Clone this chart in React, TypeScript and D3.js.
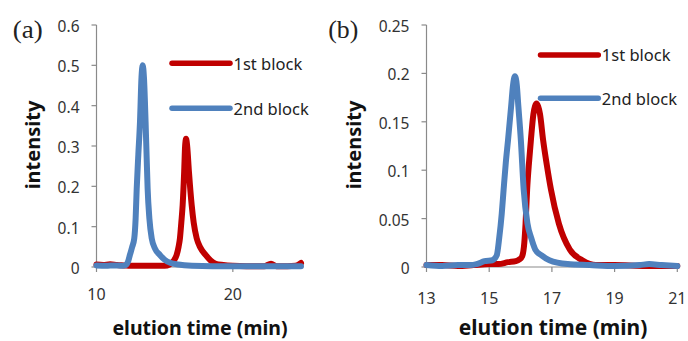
import React from "react";
import * as d3 from "d3";

type Pt = [number, number];

// Panel (a): elution profiles
const firstBlockA: Pt[] = [
  [10, 0.006], [10.5, 0.005], [11, 0.007], [11.5, 0.005], [12, 0.004], [12.5, 0.003],
  [13, 0.003], [13.5, 0.003], [14, 0.003], [14.5, 0.003], [15, 0.003], [15.35, 0.006],
  [15.65, 0.015], [15.88, 0.03], [16.02, 0.05], [16.12, 0.071], [16.22, 0.11], [16.32, 0.154],
  [16.43, 0.236], [16.5, 0.3], [16.57, 0.318], [16.65, 0.3], [16.78, 0.236], [16.98, 0.154],
  [17.13, 0.11], [17.35, 0.071], [17.62, 0.048], [18.0, 0.03], [18.35, 0.017], [18.75, 0.008],
  [19.3, 0.005], [20, 0.003], [21, 0.002], [22.3, 0.002], [22.8, 0.008], [23.2, 0.002],
  [24, 0.002], [24.6, 0.003], [25, 0.01],
];
const secondBlockA: Pt[] = [
  [10, 0.004], [10.7, 0.003], [11.3, 0.004], [11.9, 0.003], [12.15, 0.005], [12.33, 0.015],
  [12.45, 0.03], [12.62, 0.05], [12.77, 0.071], [12.87, 0.12], [12.95, 0.195], [13.07, 0.28],
  [13.19, 0.36], [13.3, 0.47], [13.39, 0.5], [13.48, 0.47], [13.6, 0.36], [13.68, 0.27],
  [13.75, 0.195], [13.88, 0.12], [14.05, 0.071], [14.3, 0.045], [14.65, 0.03], [15.0, 0.018],
  [15.45, 0.01], [16, 0.006], [17, 0.003], [18.5, 0.002], [20, 0.002], [22, 0.002],
  [23.5, 0.002], [25, 0.002],
];

// Panel (b): elution profiles
const firstBlockB: Pt[] = [
  [13, 0.002], [13.5, 0.002], [14, 0.001], [14.5, 0.002], [15, 0.003], [15.3, 0.003],
  [15.6, 0.005], [15.85, 0.006], [15.97, 0.008], [16.05, 0.011], [16.12, 0.025], [16.16, 0.045],
  [16.21, 0.08], [16.27, 0.108], [16.33, 0.131], [16.41, 0.158], [16.46, 0.166], [16.51, 0.169],
  [16.56, 0.166], [16.62, 0.158], [16.72, 0.131], [16.84, 0.105], [16.97, 0.08], [17.22, 0.045],
  [17.57, 0.018], [17.97, 0.007], [18.4, 0.002], [19, 0.002], [20, 0.001], [21, 0.001],
];
const secondBlockB: Pt[] = [
  [13, 0.002], [13.5, 0.001], [14, 0.002], [14.4, 0.002], [14.6, 0.003], [14.85, 0.006],
  [15.1, 0.007], [15.24, 0.012], [15.32, 0.03], [15.4, 0.055], [15.46, 0.08], [15.53, 0.108],
  [15.6, 0.131], [15.7, 0.166], [15.76, 0.188], [15.82, 0.197], [15.88, 0.188], [15.93, 0.166],
  [16.01, 0.131], [16.1, 0.08], [16.22, 0.045], [16.34, 0.03], [16.47, 0.018], [16.67, 0.012],
  [16.92, 0.007], [17.5, 0.003], [18.2, 0.002], [19, 0.001], [19.8, 0.002], [20.1, 0.003],
  [20.5, 0.002], [21, 0.001],
];

const xTicksA = [10, 20];
const yTicksA = [0, 0.1, 0.2, 0.3, 0.4, 0.5, 0.6];
const xTicksB = [13, 15, 17, 19, 21];
const yTicksB = [0, 0.05, 0.1, 0.15, 0.2, 0.25];

const seriesNames = ["1st block", "2nd block"];
const RED = "#c00000";
const BLUE = "#4f81bd";
const AXIS = "#8a8a8a";
const SANS = "'Noto Sans', 'Open Sans', sans-serif";

interface PanelProps {
  tag: string;
  tagX: number;
  xDomain: [number, number];
  xRange: [number, number];
  yDomain: [number, number];
  xTicks: number[];
  yTicks: number[];
  first: Pt[];
  second: Pt[];
  xLabelY: number;
  xTitleX: number;
  xTitleSize: number;
  yTitleX: number;
  legendX: [number, number];
  legendY: [number, number];
}

function Panel(p: PanelProps) {
  const x = d3.scaleLinear().domain(p.xDomain).range(p.xRange);
  const y = d3.scaleLinear().domain(p.yDomain).range([267, 25]);
  const line = d3
    .line<Pt>()
    .x((d) => x(d[0]))
    .y((d) => y(d[1]))
    .curve(d3.curveMonotoneX);
  const ax = p.xRange[0];
  const y0 = y(0);
  return (
    <g>
      <text
        x={p.tagX}
        y={37.5}
        fontFamily="'Liberation Serif', 'DejaVu Serif', serif"
        fontSize={25}
        fill="#222"
        textLength={30}
        lengthAdjust="spacingAndGlyphs"
      >
        {p.tag}
      </text>
      {/* y axis */}
      <line x1={ax} x2={ax} y1={y(p.yDomain[1])} y2={y0} stroke={AXIS} strokeWidth={1.2} />
      {p.yTicks.map((t) => (
        <g key={"y" + t}>
          <line x1={ax - 5} x2={ax} y1={y(t)} y2={y(t)} stroke={AXIS} strokeWidth={1.2} />
          <text
            x={ax - 17}
            y={y(t) + 7}
            textAnchor="end"
            fontFamily={SANS}
            fontSize={15.5}
            fill="#333"
          >
            {String(t)}
          </text>
        </g>
      ))}
      {/* x axis */}
      <line x1={p.xRange[0]} x2={p.xRange[1]} y1={y0} y2={y0} stroke={AXIS} strokeWidth={1.2} />
      {p.xTicks.map((t) => (
        <g key={"x" + t}>
          <line x1={x(t)} x2={x(t)} y1={y0} y2={y0 + 5} stroke={AXIS} strokeWidth={1.2} />
          <text
            x={x(t)}
            y={p.xLabelY}
            textAnchor="middle"
            fontFamily={SANS}
            fontSize={16}
            fill="#333"
          >
            {String(t)}
          </text>
        </g>
      ))}
      <text
        x={p.xTitleX}
        y={335}
        textAnchor="middle"
        fontFamily={SANS}
        fontWeight="bold"
        fontSize={p.xTitleSize}
        fill="#111"
      >
        elution time (min)
      </text>
      <text
        transform={`translate(${p.yTitleX},145) rotate(-90)`}
        textAnchor="middle"
        fontFamily={SANS}
        fontWeight="bold"
        fontSize={20}
        fill="#111"
      >
        intensity
      </text>
      {/* traces */}
      <path d={line(p.first) ?? ""} fill="none" stroke={RED} strokeWidth={6} strokeLinejoin="round" strokeLinecap="round" />
      <path d={line(p.second) ?? ""} fill="none" stroke={BLUE} strokeWidth={6} strokeLinejoin="round" strokeLinecap="round" />
      {/* legend */}
      {seriesNames.map((name, i) => (
        <g key={name}>
          <line
            x1={p.legendX[0]}
            x2={p.legendX[1]}
            y1={p.legendY[i]}
            y2={p.legendY[i]}
            stroke={i === 0 ? RED : BLUE}
            strokeWidth={5.5}
            strokeLinecap="round"
          />
          <text
            x={p.legendX[1] + 3.5}
            y={p.legendY[i] + 6.3}
            fontFamily={SANS}
            fontSize={16.5}
            fill="#222"
          >
            {name}
          </text>
        </g>
      ))}
    </g>
  );
}

export default function App() {
  return (
    <svg
      width={688}
      height={341}
      viewBox="0 0 688 341"
      style={{ position: "absolute", left: 0, top: 0, background: "#fff" }}
    >
      <rect width={688} height={341} fill="#fff" />
      <Panel
        tag="(a)"
        tagX={12.7}
        xDomain={[10, 25]}
        xRange={[96.5, 301]}
        yDomain={[0, 0.6]}
        xTicks={xTicksA}
        yTicks={yTicksA}
        first={firstBlockA}
        second={secondBlockA}
        xLabelY={300}
        xTitleX={200}
        xTitleSize={19.5}
        yTitleX={40}
        legendX={[172, 230]}
        legendY={[63.3, 108.3]}
      />
      <Panel
        tag="(b)"
        tagX={328.3}
        xDomain={[13, 21]}
        xRange={[426.5, 677.3]}
        yDomain={[0, 0.25]}
        xTicks={xTicksB}
        yTicks={yTicksB}
        first={firstBlockB}
        second={secondBlockB}
        xLabelY={304}
        xTitleX={553}
        xTitleSize={21}
        yTitleX={361}
        legendX={[540.5, 598.3]}
        legendY={[55, 98.3]}
      />
    </svg>
  );
}
